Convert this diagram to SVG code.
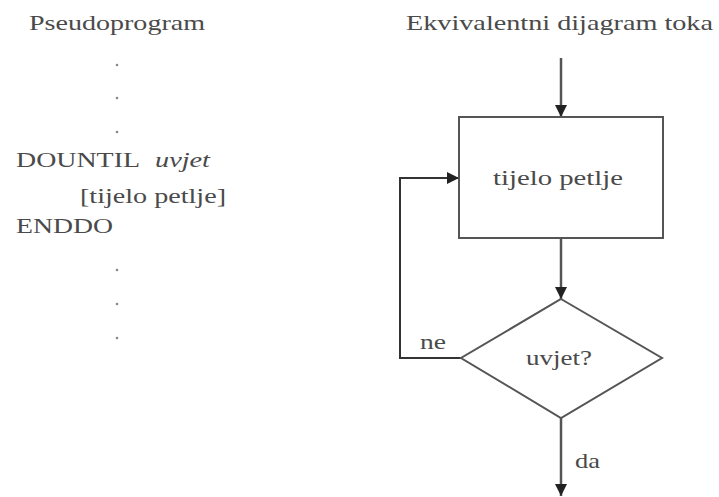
<svg xmlns="http://www.w3.org/2000/svg" width="719" height="497" viewBox="0 0 719 497">
<style>
text{font-family:"Liberation Serif","Times New Roman","DejaVu Serif",serif;fill:#4a4a4a;font-size:22px}
.c{text-anchor:middle}
.ln{stroke:#555;stroke-width:2.5;fill:none}
.lp{stroke:#333;stroke-width:2;fill:none}
.shape{stroke:#555;stroke-width:2;fill:#fff}
.dot{fill:#888}
</style>
<defs>
<marker id="ah" markerWidth="12" markerHeight="12" refX="12" refY="6" orient="auto" markerUnits="userSpaceOnUse">
<path d="M0,0 L12,6 L0,12 Z" fill="#222"/>
</marker>
</defs>
<rect width="719" height="497" fill="#fff"/>
<g id="pseudo">
<text x="29" y="30" font-family="Liberation Serif, serif" textLength="176" lengthAdjust="spacingAndGlyphs">Pseudoprogram</text>
<circle class="dot" cx="117" cy="65" r="1.3"/>
<circle class="dot" cx="117" cy="98" r="1.3"/>
<circle class="dot" cx="117" cy="132" r="1.3"/>
<text x="16" y="167" font-family="Liberation Serif, serif" textLength="124" lengthAdjust="spacingAndGlyphs">DOUNTIL</text>
<text x="155" y="167" font-family="Liberation Serif, serif" font-style="italic" textLength="55" lengthAdjust="spacingAndGlyphs">uvjet</text>
<text x="80" y="203" font-family="Liberation Serif, serif" textLength="146" lengthAdjust="spacingAndGlyphs">[tijelo petlje]</text>
<text x="16" y="233" font-family="Liberation Serif, serif" textLength="97" lengthAdjust="spacingAndGlyphs">ENDDO</text>
<circle class="dot" cx="117" cy="270" r="1.3"/>
<circle class="dot" cx="117" cy="304" r="1.3"/>
<circle class="dot" cx="117" cy="338" r="1.3"/>
</g>
<text x="406" y="30" font-family="Liberation Serif, serif" textLength="307" lengthAdjust="spacingAndGlyphs">Ekvivalentni dijagram toka</text>
<g id="connectors">
<line class="ln" x1="561" y1="58" x2="561" y2="117" marker-end="url(#ah)"/>
<line class="ln" x1="561" y1="238" x2="561" y2="299" marker-end="url(#ah)"/>
<polyline class="lp" points="461,358 400,358 400,178 459,178" marker-end="url(#ah)"/>
<line class="ln" x1="561" y1="418" x2="561" y2="496" marker-end="url(#ah)"/>
<text x="420" y="349" font-family="Liberation Serif, serif" textLength="26" lengthAdjust="spacingAndGlyphs">ne</text>
<text x="575" y="468" font-family="Liberation Serif, serif" textLength="25" lengthAdjust="spacingAndGlyphs">da</text>
</g>
<g id="body">
<rect class="shape" x="459" y="117" width="204" height="121"/>
<text x="493" y="185" font-family="Liberation Serif, serif" textLength="130" lengthAdjust="spacingAndGlyphs">tijelo petlje</text>
</g>
<g id="cond">
<polygon class="shape" points="561,299 662,358 561,418 461,358"/>
<text x="526" y="365" font-family="Liberation Serif, serif" textLength="66" lengthAdjust="spacingAndGlyphs">uvjet?</text>
</g>
</svg>
